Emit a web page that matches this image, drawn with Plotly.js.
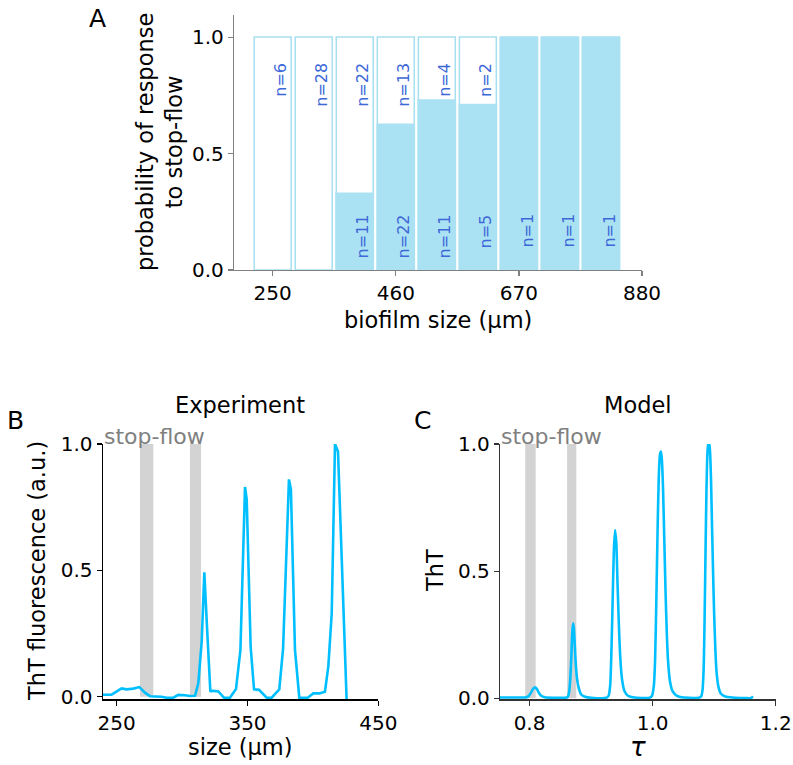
<!DOCTYPE html>
<html>
<head>
<meta charset="utf-8">
<script src="https://cdn.plot.ly/plotly-3.0.1.min.js"></script>
<style>html,body{margin:0;padding:0;background:#fff;}</style>
</head>
<body>
<div id="chart" style="width:793px;height:765px;"></div>
<script>
// ---- Panel A data ----
const binCenters = [250, 320, 390, 460, 530, 600, 670, 740, 810];
const fullHeight = [1, 1, 1, 1, 1, 1, 1, 1, 1];
const probResponse = [0, 0, 0.333, 0.629, 0.733, 0.714, 1, 1, 1];
const nResponded = [null, null, 11, 22, 11, 5, 1, 1, 1];
const nNotResponded = [6, 28, 22, 13, 4, 2, null, null, null];
const aTicks = [250, 460, 670, 880];

// ---- Panel B data (experiment) ----
const expSize = [239.3, 246, 253.8, 257.6, 262.7, 267.3, 271.6, 275.5, 284.4, 288.2, 293.3, 297.1, 302.2, 306, 309.9, 312.4, 315, 317, 318.8, 321.6, 322.6, 327.7, 332, 336.6, 341.2, 344.6, 348.1, 349.4, 352.4, 355, 358.8, 364.7, 368.5, 374.3, 377.2, 381.7, 383.2, 386.3, 389.6, 396, 400.3, 404.9, 409.2, 411.8, 414.4, 416.9, 419.2, 425.8];
const expThT = [0.008, 0.008, 0.033, 0.029, 0.032, 0.038, 0.016, 0.002, 0.0, -0.004, -0.004, 0.007, 0.006, 0.003, 0.004, 0.053, 0.22, 0.492, 0.30, 0.02, 0.024, 0.021, -0.004, -0.004, 0.03, 0.185, 0.83, 0.78, 0.198, 0.029, 0.027, -0.004, -0.004, 0.029, 0.19, 0.86, 0.82, 0.185, -0.004, -0.004, 0.013, 0.013, 0.02, 0.12, 0.33, 1.0, 0.97, -0.015];
const expStopFlow = [[267.8, 278], [306, 314.5]];
const bTicks = [250, 350, 450];

// ---- Panel C data (model) ----
const modTau = [0.752, 0.780, 0.795, 0.799, 0.803, 0.806, 0.809, 0.812, 0.815, 0.819, 0.825, 0.840, 0.858, 0.862, 0.864, 0.866, 0.868, 0.8695, 0.8708, 0.872, 0.8735, 0.875, 0.877, 0.880, 0.884, 0.890, 0.900, 0.925, 0.9285, 0.931, 0.933, 0.935, 0.937, 0.939, 0.941, 0.943, 0.945, 0.947, 0.950, 0.954, 0.960, 0.970, 0.995, 0.999, 1.002, 1.004, 1.006, 1.008, 1.010, 1.012, 1.0136, 1.015, 1.017, 1.019, 1.021, 1.023, 1.025, 1.028, 1.032, 1.038, 1.045, 1.060, 1.075, 1.079, 1.081, 1.083, 1.0845, 1.086, 1.0875, 1.089, 1.0905, 1.092, 1.0935, 1.095, 1.0965, 1.098, 1.100, 1.102, 1.104, 1.107, 1.111, 1.118, 1.130, 1.150, 1.160, 1.163];
const modThT = [0.003, 0.003, 0.004, 0.010, 0.025, 0.038, 0.043, 0.036, 0.022, 0.010, 0.004, 0.002, 0.002, 0.005, 0.020, 0.07, 0.17, 0.26, 0.295, 0.275, 0.21, 0.14, 0.08, 0.04, 0.015, 0.006, 0.002, 0.002, 0.01, 0.05, 0.18, 0.38, 0.58, 0.662, 0.61, 0.45, 0.30, 0.18, 0.08, 0.03, 0.01, 0.003, 0.002, 0.01, 0.05, 0.15, 0.38, 0.65, 0.87, 0.96, 0.97, 0.94, 0.82, 0.62, 0.42, 0.26, 0.15, 0.07, 0.03, 0.012, 0.005, 0.002, 0.002, 0.008, 0.03, 0.12, 0.32, 0.58, 0.82, 0.96, 1.0, 1.0, 0.96, 0.85, 0.68, 0.52, 0.33, 0.19, 0.10, 0.045, 0.018, 0.007, 0.003, 0.001, 0.001, 0.008];
const modStopFlow = [[0.793, 0.81], [0.861, 0.876]];
const cTicks = [0.8, 1.0, 1.2];
const cTickText = ['0.8', '1.0', '1.2'];
const yTicks = [0, 0.5, 1];
const yTickText = ['0.0', '0.5', '1.0'];

const W = 793, H = 765;
const px = v => v / W;
const py = v => 1 - v / H;
const FONT = 'DejaVu Sans';
const lineBlue = '#00bfff';
const barFill = '#abe2f3';
const barEdge = '#a6dff0';
const nColor = '#3d68d8';
const LBL = 22.5;

const traces = [
  {type: 'bar', x: binCenters, y: fullHeight, width: 63, xaxis: 'x', yaxis: 'y',
   marker: {color: '#ffffff', line: {color: barEdge, width: 1.5}}, hoverinfo: 'skip'},
  {type: 'bar', x: binCenters, y: probResponse, width: 66, xaxis: 'x', yaxis: 'y',
   marker: {color: barFill, line: {width: 0}}, hoverinfo: 'skip'},
  {type: 'scatter', mode: 'lines', x: expSize, y: expThT, xaxis: 'x2', yaxis: 'y2',
   line: {color: lineBlue, width: 2.6}},
  {type: 'scatter', mode: 'lines', x: modTau, y: modThT, xaxis: 'x3', yaxis: 'y3',
   line: {color: lineBlue, width: 2.6, shape: 'spline', smoothing: 0.6}}
];

const annotations = [];
binCenters.forEach((c, i) => {
  if (nNotResponded[i] !== null) {
    annotations.push({xref: 'x', yref: 'y', x: c + 13, y: 0.90, text: 'n=' + nNotResponded[i],
      textangle: -90, showarrow: false, xanchor: 'center', yanchor: 'top',
      font: {family: FONT, size: 16, color: nColor}});
  }
  if (nResponded[i] !== null) {
    annotations.push({xref: 'x', yref: 'y', x: c + 13, y: 0.249, text: 'n=' + nResponded[i],
      textangle: -90, showarrow: false, xanchor: 'center', yanchor: 'top',
      font: {family: FONT, size: 16, color: nColor}});
  }
});

function txt(text, x, y, size, opts) {
  return Object.assign({xref: 'paper', yref: 'paper', x: px(x), y: py(y), text: text,
    showarrow: false, xanchor: 'center', yanchor: 'middle',
    font: {family: FONT, size: size, color: '#000'}}, opts || {});
}
annotations.push(
  txt('A', 97, 18, 25),
  txt('B', 15, 420, 25),
  txt('C', 422, 420, 25),
  txt('biofilm size (μm)', 438, 320, LBL),
  txt('probability of response<br>to stop-flow', 159, 142, LBL, {textangle: -90}),
  txt('size (μm)', 240, 747, LBL),
  txt('ThT fluorescence (a.u.)', 37, 571, LBL, {textangle: -90}),
  txt('τ', 638, 764, 26, {yanchor: 'bottom', font: {family: FONT, size: 26, color: '#000', style: 'italic'}}),
  txt('ThT', 435, 571, LBL, {textangle: -90}),
  txt('Experiment', 240, 405, LBL),
  txt('Model', 638, 405, LBL),
  txt('stop-flow', 102, 436, 22, {xanchor: 'left', font: {family: FONT, size: 22, color: '#808080'}}),
  txt('stop-flow', 499, 436, 22, {xanchor: 'left', font: {family: FONT, size: 22, color: '#808080'}})
);

const shapes = [];
expStopFlow.forEach(b => shapes.push({type: 'rect', xref: 'x2', yref: 'y2', x0: b[0], x1: b[1], y0: 0, y1: 1,
  fillcolor: '#d3d3d3', line: {width: 0}, layer: 'below'}));
modStopFlow.forEach(b => shapes.push({type: 'rect', xref: 'x3', yref: 'y3', x0: b[0], x1: b[1], y0: 0, y1: 1,
  fillcolor: '#d3d3d3', line: {width: 0}, layer: 'below'}));

function ax(extra, color) {
  return Object.assign({showgrid: false, zeroline: false, showline: true, linecolor: color, linewidth: 1.2,
    ticks: 'outside', ticklen: 5, tickwidth: 1.2, tickcolor: color,
    tickfont: {family: FONT, size: 20, color: '#000'}, fixedrange: true}, extra);
}

const layout = {
  width: W, height: H,
  margin: {l: 0, r: 0, t: 0, b: 0},
  paper_bgcolor: '#fff', plot_bgcolor: 'rgba(0,0,0,0)',
  showlegend: false, barmode: 'overlay',
  xaxis: ax({domain: [px(234), px(642)], range: [184, 880], tickvals: aTicks, anchor: 'y'}, '#808080'),
  yaxis: ax({domain: [py(270), py(15)], range: [0, 1.095], tickvals: yTicks, ticktext: yTickText, anchor: 'x'}, '#808080'),
  xaxis2: ax({domain: [px(102.7), px(378.3)], range: [239.3, 450], tickvals: bTicks, anchor: 'y2'}, '#000'),
  yaxis2: ax({domain: [py(699.3), py(444)], range: [-0.0103, 1.0], tickvals: yTicks, ticktext: yTickText, anchor: 'x2'}, '#000'),
  xaxis3: ax({domain: [px(500), px(775.7)], range: [0.752, 1.2], tickvals: cTicks, ticktext: cTickText, anchor: 'y3'}, '#333'),
  yaxis3: ax({domain: [py(699.3), py(444)], range: [-0.004, 1.0], tickvals: yTicks, ticktext: yTickText, anchor: 'x3'}, '#333'),
  annotations: annotations,
  shapes: shapes
};

Plotly.newPlot('chart', traces, layout, {staticPlot: true, displayModeBar: false});
</script>
</body>
</html>
